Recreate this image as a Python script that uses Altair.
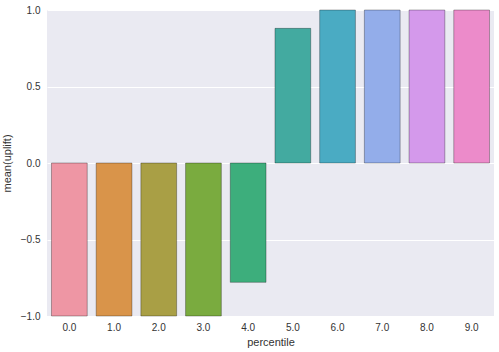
import altair as alt
import pandas as pd

percentiles = ["0.0", "1.0", "2.0", "3.0", "4.0", "5.0", "6.0", "7.0", "8.0", "9.0"]
uplift = [-1.0, -1.0, -1.0, -1.0, -0.78, 0.88, 1.0, 1.0, 1.0, 1.0]
colors = ["#ee96a4", "#d9944a", "#a99f45", "#7aab3f", "#3dae7c",
          "#43aaa0", "#4aabc3", "#93adea", "#d499eb", "#ec8bca"]

df = pd.DataFrame({"percentile": percentiles, "uplift": uplift})

font = "Liberation Sans"

chart = alt.Chart(df).mark_bar(
    stroke="black", strokeOpacity=0.3, strokeWidth=1
).encode(
    x=alt.X("percentile:N", title="percentile", sort=percentiles,
            scale=alt.Scale(paddingInner=0.2, paddingOuter=0.1),
            axis=alt.Axis(labelAngle=0, ticks=False, domain=False, grid=False,
                          labelPadding=6, labelFontSize=10, titleFontSize=11,
                          labelFont=font, titleFont=font, labelColor="#333333",
                          titleColor="#333333", titleFontWeight="normal", titlePadding=4)),
    y=alt.Y("uplift:Q", title="mean(uplift)",
            scale=alt.Scale(domain=[-1, 1], nice=False),
            axis=alt.Axis(values=[-1.0, -0.5, 0.0, 0.5, 1.0], format=".1f", ticks=False,
                          domain=False, grid=True, gridColor="white", gridWidth=1,
                          labelPadding=7, labelFontSize=10, titleFontSize=11,
                          labelFont=font, titleFont=font, labelColor="#333333",
                          titleColor="#333333", titleFontWeight="normal", titlePadding=8)),
    color=alt.Color("percentile:N", sort=percentiles,
                    scale=alt.Scale(domain=percentiles, range=colors), legend=None),
).properties(
    width=447, height=306,
    padding={"left": 47, "top": 10, "right": 5, "bottom": 36},
    autosize="none",
    background="white",
).configure_view(
    fill="#eaeaf2", stroke=None
)

chart.save("out.html", embed_options={"renderer": "svg", "actions": False})
